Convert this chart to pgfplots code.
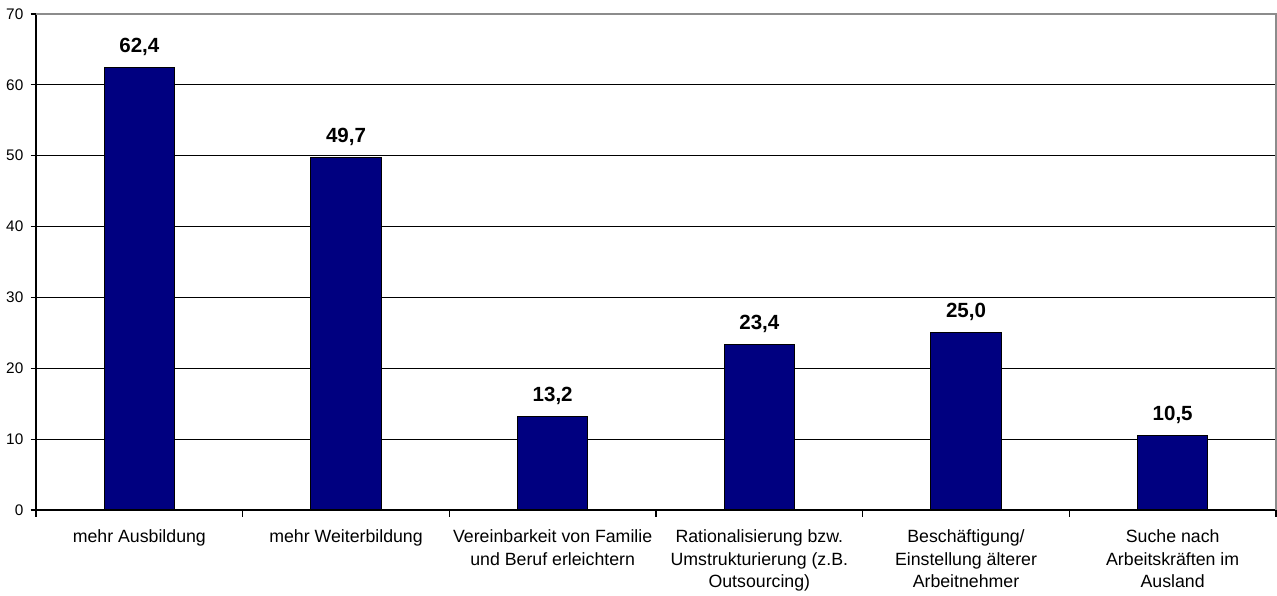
\documentclass[border=0pt]{standalone}
\usepackage{pgfplots}
\pgfplotsset{compat=1.18}
\usepackage{fontspec}
\setmainfont{Liberation Sans}
\definecolor{navybar}{HTML}{000080}
\definecolor{frameg}{HTML}{8C8C8C}
\begin{document}
\begin{tikzpicture}
\begin{axis}[
  scale only axis,
  width=930pt, height=372pt,
  xmin=-0.5, xmax=5.5,
  ymin=0, ymax=70,
  ytick={0,10,...,70},
  axis x line*=bottom,
  axis y line*=left,
  axis line style={black, line width=0.8pt},
  ymajorgrids,
  major grid style={black, line width=0.6pt},
  xtick={0,1,2,3,4,5},
  xticklabels={
    mehr Ausbildung,
    mehr Weiterbildung,
    {Vereinbarkeit von Familie\\und Beruf erleichtern},
    {Rationalisierung bzw.\\Umstrukturierung (z.B.\\Outsourcing)},
    {Beschäftigung/\\Einstellung älterer\\Arbeitnehmer},
    {Suche nach\\Arbeitskräften im\\Ausland}},
  x tick label style={align=center, font=\fontsize{13.3pt}{16.8pt}\selectfont, yshift=-7.5pt},
  major x tick style={draw=none},
  minor xtick={-0.5,0.5,...,5.5},
  minor x tick style={black, line width=0.8pt},
  minor tick length=5pt,
  major tick length=4pt,
  tick align=outside,
  y tick label style={font=\fontsize{11.5pt}{13pt}\selectfont, xshift=-2pt},
  major y tick style={black, line width=0.8pt},
  /pgf/number format/assume math mode=true,
  clip=false,
]
\addplot[ybar, bar width=0.34, fill=navybar, draw=black, line width=0.8pt,
  nodes near coords,
  nodes near coords style={font=\bfseries\fontsize{15.4pt}{17pt}\selectfont, anchor=south, inner sep=0pt, yshift=8.5pt,
    /pgf/number format/.cd, fixed, fixed zerofill, precision=1, use comma, assume math mode=true},
] coordinates {(0,62.4) (1,49.7) (2,13.2) (3,23.4) (4,25.0) (5,10.5)};
\draw[frameg, line width=1.2pt] (rel axis cs:0,1) -- (rel axis cs:1,1) -- (rel axis cs:1,0);
\coordinate (bl) at (rel axis cs:0,0);
\coordinate (tr) at (rel axis cs:1,1);
\end{axis}
\pgfresetboundingbox
\path ([xshift=-27pt, yshift=-63.75pt]bl) rectangle ([xshift=0.75pt, yshift=10.5pt]tr);
\end{tikzpicture}
\end{document}
